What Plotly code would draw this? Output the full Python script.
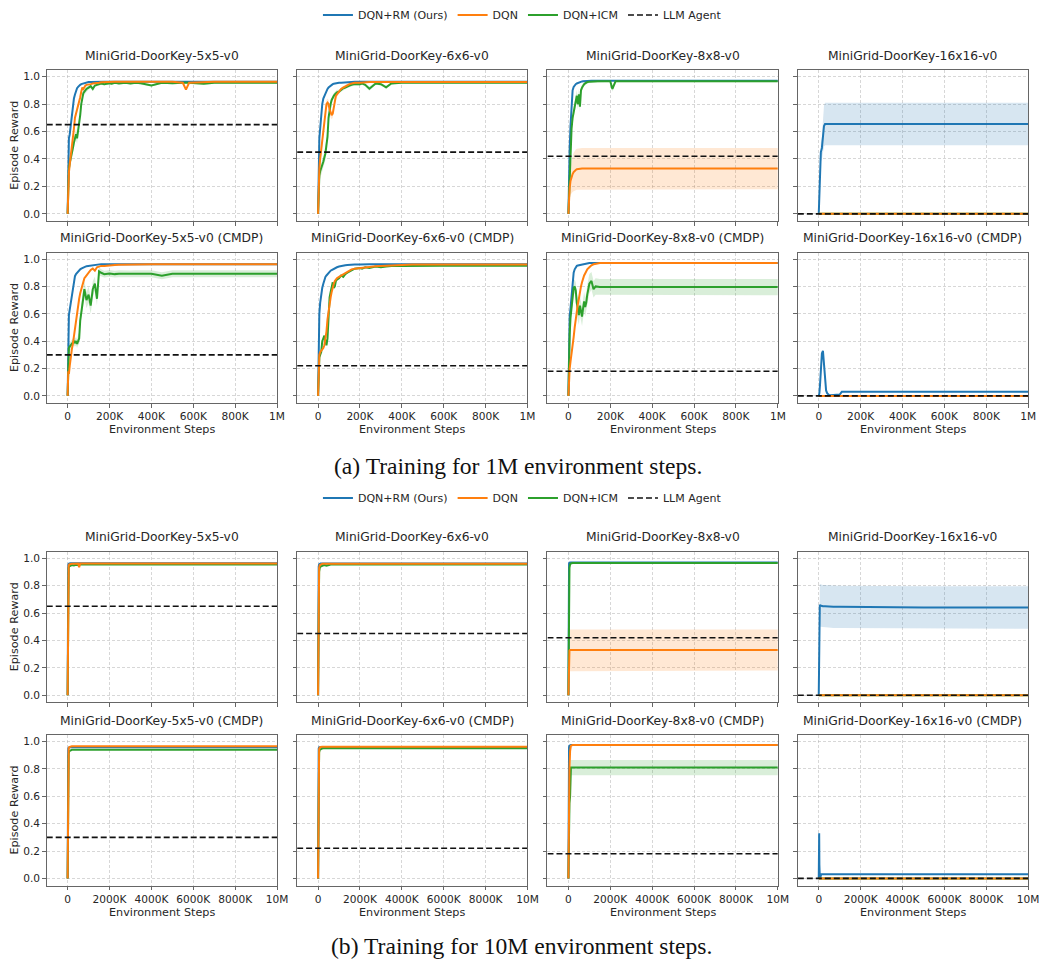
import plotly.graph_objects as go

# ---------------- data ----------------
# environment steps (thousands) for the 1M runs
STEPS_1M_K = [0, 3, 6, 10, 15, 20, 25, 30, 35, 40,
              45, 50, 55, 60, 65, 70, 75, 80, 85, 90,
              100, 110, 120, 130, 140, 150, 160, 175, 200, 210,
              225, 245, 275, 300, 325, 350, 400, 450, 500, 550,
              565, 580, 650, 700, 800, 900, 1000]
# environment steps (thousands) for the 10M runs
STEPS_10M_K = [0, 10, 20, 30, 50, 80, 120, 200, 300, 400,
               500, 550, 600, 700, 1000, 1500, 2000, 3000, 4000, 5000,
               6000, 7000, 8000, 9000, 10000]

TITLES = ["MiniGrid-DoorKey-5x5-v0", "MiniGrid-DoorKey-6x6-v0",
          "MiniGrid-DoorKey-8x8-v0", "MiniGrid-DoorKey-16x16-v0",
          "MiniGrid-DoorKey-5x5-v0 (CMDP)", "MiniGrid-DoorKey-6x6-v0 (CMDP)",
          "MiniGrid-DoorKey-8x8-v0 (CMDP)", "MiniGrid-DoorKey-16x16-v0 (CMDP)"]
LLM_AGENT = [0.65, 0.45, 0.42, 0.00, 0.30, 0.22, 0.18, 0.00]

TICKS_1M = [0, 200000, 400000, 600000, 800000, 1000000]
TICKTEXT_1M = ["0", "200K", "400K", "600K", "800K", "1M"]
TICKS_10M = [0, 2000000, 4000000, 6000000, 8000000, 10000000]
TICKTEXT_10M = ["0", "2000K", "4000K", "6000K", "8000K", "10M"]
XRANGE_1M = [-100000, 1000000]
XRANGE_10M = [-1000000, 10000000]
YTICKS = [0.0, 0.2, 0.4, 0.6, 0.8, 1.0]
YTICKTEXT = ["0.0", "0.2", "0.4", "0.6", "0.8", "1.0"]

ZERO_1M = [0.0, 0.0, 0.0, 0.0, 0.0, 0.0, 0.0, 0.0, 0.0, 0.0,
           0.0, 0.0, 0.0, 0.0, 0.0, 0.0, 0.0, 0.0, 0.0, 0.0,
           0.0, 0.0, 0.0, 0.0, 0.0, 0.0, 0.0, 0.0, 0.0, 0.0,
           0.0, 0.0, 0.0, 0.0, 0.0, 0.0, 0.0, 0.0, 0.0, 0.0,
           0.0, 0.0, 0.0, 0.0, 0.0, 0.0, 0.0]
ZERO_10M = [0.0, 0.0, 0.0, 0.0, 0.0, 0.0, 0.0, 0.0, 0.0, 0.0,
            0.0, 0.0, 0.0, 0.0, 0.0, 0.0, 0.0, 0.0, 0.0, 0.0,
            0.0, 0.0, 0.0, 0.0, 0.0]

# ---- 1M: 5x5 ----
A1_RM = [0.00, 0.50, 0.55, 0.58, 0.64, 0.72, 0.80, 0.84, 0.87, 0.90,
         0.915, 0.925, 0.935, 0.94, 0.945, 0.948, 0.95, 0.953, 0.955, 0.957,
         0.96, 0.961, 0.962, 0.962, 0.963, 0.963, 0.963, 0.963, 0.963, 0.963,
         0.963, 0.963, 0.963, 0.963, 0.963, 0.963, 0.963, 0.963, 0.963, 0.963,
         0.963, 0.963, 0.963, 0.963, 0.963, 0.963, 0.963]
A1_DQN = [0.00, 0.20, 0.30, 0.36, 0.42, 0.47, 0.52, 0.62, 0.70, 0.73,
          0.75, 0.78, 0.80, 0.85, 0.89, 0.92, 0.91, 0.93, 0.935, 0.94,
          0.94, 0.945, 0.95, 0.95, 0.955, 0.955, 0.958, 0.96, 0.96, 0.961,
          0.962, 0.962, 0.962, 0.962, 0.962, 0.962, 0.962, 0.962, 0.962, 0.955,
          0.905, 0.955, 0.962, 0.962, 0.962, 0.962, 0.962]
A1_ICM = [0.00, 0.25, 0.33, 0.37, 0.40, 0.44, 0.48, 0.52, 0.56, 0.58,
          0.55, 0.60, 0.64, 0.72, 0.80, 0.86, 0.88, 0.89, 0.90, 0.91,
          0.92, 0.93, 0.91, 0.935, 0.94, 0.945, 0.95, 0.945, 0.952, 0.948,
          0.955, 0.95, 0.955, 0.95, 0.955, 0.952, 0.935, 0.955, 0.952, 0.955,
          0.955, 0.955, 0.948, 0.955, 0.955, 0.955, 0.955]
A1_ICM_SD = [0.00, 0.03, 0.04, 0.04, 0.04, 0.04, 0.04, 0.04, 0.04, 0.04,
             0.04, 0.04, 0.03, 0.03, 0.03, 0.02, 0.02, 0.02, 0.02, 0.02,
             0.015, 0.015, 0.015, 0.01, 0.01, 0.01, 0.01, 0.01, 0.01, 0.01,
             0.008, 0.008, 0.008, 0.008, 0.008, 0.008, 0.008, 0.008, 0.008, 0.008,
             0.008, 0.008, 0.008, 0.008, 0.008, 0.008, 0.008]

# ---- 1M: 6x6 ----
A2_RM = [0.00, 0.45, 0.55, 0.62, 0.72, 0.80, 0.84, 0.86, 0.88, 0.90,
         0.91, 0.92, 0.928, 0.935, 0.94, 0.945, 0.948, 0.95, 0.952, 0.953,
         0.955, 0.956, 0.958, 0.959, 0.96, 0.96, 0.961, 0.962, 0.962, 0.962,
         0.962, 0.962, 0.962, 0.962, 0.962, 0.962, 0.962, 0.962, 0.962, 0.962,
         0.962, 0.962, 0.962, 0.962, 0.962, 0.962, 0.962]
A2_DQN = [0.00, 0.25, 0.33, 0.40, 0.47, 0.52, 0.60, 0.68, 0.75, 0.80,
          0.81, 0.80, 0.76, 0.73, 0.72, 0.73, 0.78, 0.84, 0.86, 0.87,
          0.89, 0.91, 0.92, 0.93, 0.94, 0.945, 0.95, 0.955, 0.955, 0.957,
          0.958, 0.96, 0.96, 0.96, 0.96, 0.96, 0.96, 0.96, 0.96, 0.96,
          0.96, 0.96, 0.96, 0.96, 0.96, 0.96, 0.96]
A2_DQN_SD = [0.00, 0.02, 0.03, 0.03, 0.03, 0.03, 0.03, 0.03, 0.03, 0.03,
             0.03, 0.03, 0.03, 0.03, 0.03, 0.03, 0.02, 0.02, 0.02, 0.02,
             0.01, 0.01, 0.01, 0.01, 0.01, 0.008, 0.008, 0.008, 0.008, 0.008,
             0.005, 0.005, 0.005, 0.005, 0.005, 0.005, 0.005, 0.005, 0.005, 0.005,
             0.005, 0.005, 0.005, 0.005, 0.005, 0.005, 0.005]
A2_ICM = [0.00, 0.20, 0.28, 0.31, 0.33, 0.35, 0.38, 0.41, 0.44, 0.50,
          0.56, 0.70, 0.76, 0.80, 0.83, 0.85, 0.86, 0.87, 0.88, 0.885,
          0.89, 0.905, 0.915, 0.92, 0.93, 0.935, 0.94, 0.945, 0.945, 0.95,
          0.94, 0.912, 0.95, 0.945, 0.922, 0.95, 0.955, 0.955, 0.955, 0.955,
          0.955, 0.955, 0.955, 0.955, 0.955, 0.955, 0.955]
A2_ICM_SD = [0.00, 0.03, 0.04, 0.04, 0.04, 0.04, 0.04, 0.04, 0.05, 0.05,
             0.05, 0.04, 0.03, 0.03, 0.02, 0.02, 0.02, 0.02, 0.02, 0.02,
             0.015, 0.015, 0.015, 0.012, 0.012, 0.012, 0.01, 0.01, 0.01, 0.01,
             0.01, 0.015, 0.01, 0.01, 0.012, 0.008, 0.006, 0.006, 0.006, 0.006,
             0.006, 0.006, 0.006, 0.006, 0.006, 0.006, 0.006]

# ---- 1M: 8x8 ----
A3_RM = [0.00, 0.32, 0.48, 0.64, 0.80, 0.90, 0.925, 0.94, 0.945, 0.95,
         0.954, 0.958, 0.96, 0.963, 0.965, 0.966, 0.967, 0.968, 0.969, 0.97,
         0.97, 0.97, 0.97, 0.97, 0.97, 0.97, 0.97, 0.97, 0.97, 0.97,
         0.97, 0.97, 0.97, 0.97, 0.97, 0.97, 0.97, 0.97, 0.97, 0.97,
         0.97, 0.97, 0.97, 0.97, 0.97, 0.97, 0.97]
A3_DQN = [0.00, 0.12, 0.19, 0.24, 0.27, 0.29, 0.305, 0.315, 0.32, 0.325,
          0.327, 0.328, 0.329, 0.33, 0.33, 0.33, 0.33, 0.33, 0.33, 0.33,
          0.33, 0.33, 0.33, 0.33, 0.33, 0.33, 0.33, 0.33, 0.33, 0.33,
          0.33, 0.33, 0.33, 0.33, 0.33, 0.33, 0.33, 0.33, 0.33, 0.33,
          0.33, 0.33, 0.33, 0.33, 0.33, 0.33, 0.33]
A3_DQN_SD = [0.00, 0.05, 0.08, 0.10, 0.12, 0.13, 0.14, 0.145, 0.148, 0.15,
             0.15, 0.15, 0.15, 0.15, 0.15, 0.15, 0.15, 0.15, 0.15, 0.15,
             0.15, 0.15, 0.15, 0.15, 0.15, 0.15, 0.15, 0.15, 0.15, 0.15,
             0.15, 0.15, 0.15, 0.15, 0.15, 0.15, 0.15, 0.15, 0.15, 0.15,
             0.15, 0.15, 0.15, 0.15, 0.15, 0.15, 0.15]
A3_ICM = [0.00, 0.15, 0.32, 0.52, 0.62, 0.70, 0.74, 0.78, 0.82, 0.86,
          0.80, 0.87, 0.78, 0.90, 0.92, 0.935, 0.945, 0.95, 0.955, 0.96,
          0.962, 0.964, 0.965, 0.965, 0.966, 0.966, 0.966, 0.966, 0.966, 0.91,
          0.966, 0.966, 0.963, 0.966, 0.966, 0.966, 0.966, 0.966, 0.966, 0.966,
          0.966, 0.966, 0.966, 0.966, 0.966, 0.966, 0.966]
A3_ICM_SD = [0.00, 0.05, 0.06, 0.05, 0.05, 0.04, 0.04, 0.04, 0.04, 0.04,
             0.04, 0.04, 0.04, 0.03, 0.02, 0.02, 0.015, 0.01, 0.01, 0.01,
             0.008, 0.008, 0.008, 0.008, 0.008, 0.008, 0.008, 0.008, 0.008, 0.02,
             0.008, 0.008, 0.008, 0.008, 0.008, 0.008, 0.008, 0.008, 0.008, 0.008,
             0.008, 0.008, 0.008, 0.008, 0.008, 0.008, 0.008]

# ---- 1M: 16x16 ----
A4_RM = [0.00, 0.20, 0.42, 0.45, 0.48, 0.56, 0.64, 0.655, 0.655, 0.652,
         0.655, 0.656, 0.655, 0.655, 0.655, 0.655, 0.655, 0.655, 0.655, 0.655,
         0.655, 0.655, 0.655, 0.655, 0.655, 0.655, 0.655, 0.655, 0.655, 0.655,
         0.655, 0.655, 0.655, 0.655, 0.655, 0.655, 0.655, 0.655, 0.655, 0.655,
         0.655, 0.655, 0.655, 0.655, 0.655, 0.655, 0.655]
A4_RM_SD = [0.00, 0.03, 0.05, 0.07, 0.08, 0.12, 0.15, 0.155, 0.155, 0.155,
            0.155, 0.155, 0.155, 0.155, 0.155, 0.155, 0.155, 0.155, 0.155, 0.155,
            0.155, 0.155, 0.155, 0.155, 0.155, 0.155, 0.155, 0.155, 0.155, 0.155,
            0.155, 0.155, 0.155, 0.155, 0.155, 0.155, 0.155, 0.155, 0.155, 0.155,
            0.155, 0.155, 0.155, 0.155, 0.155, 0.155, 0.155]

# ---- 1M: 5x5 CMDP ----
A5_RM = [0.00, 0.54, 0.59, 0.63, 0.68, 0.74, 0.80, 0.85, 0.875, 0.89,
         0.90, 0.91, 0.92, 0.925, 0.93, 0.935, 0.94, 0.942, 0.945, 0.947,
         0.95, 0.953, 0.956, 0.958, 0.96, 0.962, 0.963, 0.963, 0.963, 0.963,
         0.963, 0.963, 0.963, 0.963, 0.963, 0.963, 0.963, 0.963, 0.963, 0.963,
         0.963, 0.963, 0.963, 0.963, 0.963, 0.963, 0.963]
A5_DQN = [0.00, 0.18, 0.16, 0.22, 0.30, 0.34, 0.38, 0.44, 0.50, 0.56,
          0.62, 0.66, 0.71, 0.75, 0.78, 0.82, 0.84, 0.86, 0.87, 0.88,
          0.90, 0.92, 0.93, 0.915, 0.94, 0.945, 0.95, 0.95, 0.955, 0.956,
          0.957, 0.958, 0.96, 0.961, 0.962, 0.963, 0.963, 0.963, 0.963, 0.963,
          0.963, 0.963, 0.963, 0.963, 0.963, 0.963, 0.963]
A5_ICM = [0.00, 0.32, 0.35, 0.36, 0.37, 0.38, 0.39, 0.40, 0.39, 0.40,
          0.38, 0.41, 0.42, 0.55, 0.62, 0.68, 0.72, 0.78, 0.74, 0.70,
          0.74, 0.66, 0.78, 0.82, 0.71, 0.91, 0.90, 0.89, 0.895, 0.892,
          0.89, 0.893, 0.89, 0.892, 0.893, 0.892, 0.893, 0.878, 0.893, 0.893,
          0.893, 0.893, 0.893, 0.893, 0.893, 0.893, 0.893]
A5_ICM_SD = [0.00, 0.03, 0.03, 0.03, 0.03, 0.03, 0.03, 0.03, 0.03, 0.03,
             0.03, 0.04, 0.04, 0.05, 0.05, 0.06, 0.06, 0.06, 0.06, 0.06,
             0.06, 0.06, 0.06, 0.05, 0.05, 0.03, 0.025, 0.025, 0.025, 0.025,
             0.025, 0.025, 0.025, 0.025, 0.025, 0.025, 0.025, 0.025, 0.025, 0.025,
             0.025, 0.025, 0.025, 0.025, 0.025, 0.025, 0.025]

# ---- 1M: 6x6 CMDP ----
A6_RM = [0.00, 0.45, 0.60, 0.68, 0.75, 0.79, 0.82, 0.85, 0.87, 0.88,
         0.89, 0.90, 0.908, 0.915, 0.92, 0.925, 0.93, 0.935, 0.938, 0.94,
         0.945, 0.95, 0.952, 0.955, 0.956, 0.958, 0.959, 0.96, 0.961, 0.962,
         0.962, 0.962, 0.962, 0.962, 0.962, 0.962, 0.962, 0.962, 0.962, 0.962,
         0.962, 0.962, 0.962, 0.962, 0.962, 0.962, 0.962]
A6_DQN = [0.00, 0.27, 0.30, 0.32, 0.33, 0.34, 0.35, 0.37, 0.41, 0.47,
          0.56, 0.63, 0.68, 0.72, 0.76, 0.80, 0.82, 0.84, 0.85, 0.86,
          0.87, 0.88, 0.89, 0.90, 0.91, 0.92, 0.925, 0.93, 0.935, 0.937,
          0.94, 0.945, 0.948, 0.95, 0.952, 0.955, 0.958, 0.96, 0.96, 0.96,
          0.96, 0.96, 0.96, 0.96, 0.96, 0.96, 0.96]
A6_ICM = [0.00, 0.25, 0.28, 0.30, 0.32, 0.40, 0.43, 0.44, 0.40, 0.37,
          0.42, 0.62, 0.72, 0.76, 0.80, 0.83, 0.79, 0.80, 0.84, 0.85,
          0.86, 0.88, 0.87, 0.89, 0.90, 0.91, 0.92, 0.93, 0.935, 0.93,
          0.94, 0.935, 0.945, 0.94, 0.945, 0.95, 0.95, 0.952, 0.952, 0.952,
          0.952, 0.952, 0.952, 0.952, 0.952, 0.952, 0.952]

# ---- 1M: 8x8 CMDP ----
A7_RM = [0.00, 0.52, 0.58, 0.64, 0.74, 0.84, 0.90, 0.925, 0.94, 0.95,
         0.953, 0.955, 0.958, 0.96, 0.962, 0.965, 0.966, 0.968, 0.969, 0.97,
         0.972, 0.972, 0.972, 0.972, 0.972, 0.972, 0.972, 0.972, 0.972, 0.972,
         0.972, 0.972, 0.972, 0.972, 0.972, 0.972, 0.972, 0.972, 0.972, 0.972,
         0.972, 0.972, 0.972, 0.972, 0.972, 0.972, 0.972]
A7_DQN = [0.00, 0.15, 0.20, 0.25, 0.30, 0.35, 0.43, 0.50, 0.57, 0.63,
          0.67, 0.71, 0.77, 0.80, 0.83, 0.86, 0.88, 0.895, 0.91, 0.925,
          0.94, 0.955, 0.962, 0.967, 0.97, 0.972, 0.972, 0.972, 0.972, 0.972,
          0.972, 0.972, 0.972, 0.972, 0.972, 0.972, 0.972, 0.972, 0.972, 0.972,
          0.972, 0.972, 0.972, 0.972, 0.972, 0.972, 0.972]
A7_ICM = [0.00, 0.32, 0.45, 0.57, 0.66, 0.74, 0.79, 0.80, 0.77, 0.68,
          0.62, 0.59, 0.66, 0.62, 0.58, 0.64, 0.69, 0.65, 0.68, 0.74,
          0.82, 0.84, 0.78, 0.80, 0.795, 0.795, 0.795, 0.795, 0.795, 0.795,
          0.795, 0.795, 0.795, 0.795, 0.795, 0.795, 0.795, 0.795, 0.795, 0.795,
          0.795, 0.795, 0.795, 0.795, 0.795, 0.795, 0.795]
A7_ICM_SD = [0.00, 0.03, 0.04, 0.05, 0.05, 0.05, 0.05, 0.05, 0.06, 0.07,
             0.07, 0.07, 0.07, 0.07, 0.07, 0.07, 0.07, 0.07, 0.07, 0.07,
             0.07, 0.065, 0.06, 0.06, 0.06, 0.06, 0.06, 0.06, 0.06, 0.06,
             0.06, 0.06, 0.06, 0.06, 0.06, 0.06, 0.06, 0.06, 0.06, 0.06,
             0.06, 0.06, 0.06, 0.06, 0.06, 0.06, 0.06]

# ---- 1M: 16x16 CMDP ----
A8_RM = [0.00, 0.02, 0.08, 0.18, 0.31, 0.33, 0.22, 0.10, 0.04, 0.02,
         0.01, 0.005, 0.005, 0.005, 0.005, 0.005, 0.005, 0.005, 0.005, 0.005,
         0.01, 0.03, 0.03, 0.03, 0.03, 0.03, 0.03, 0.03, 0.03, 0.03,
         0.03, 0.03, 0.03, 0.03, 0.03, 0.03, 0.03, 0.03, 0.03, 0.03,
         0.03, 0.03, 0.03, 0.03, 0.03, 0.03, 0.03]

# ---- 10M runs ----
B1_RM = [0.00, 0.75, 0.92, 0.95, 0.96, 0.962, 0.963, 0.963, 0.963, 0.963,
         0.963, 0.963, 0.963, 0.963, 0.963, 0.963, 0.963, 0.963, 0.963, 0.963,
         0.963, 0.963, 0.963, 0.963, 0.963]
B1_DQN = [0.00, 0.55, 0.85, 0.92, 0.945, 0.955, 0.958, 0.96, 0.96, 0.962,
          0.962, 0.935, 0.962, 0.962, 0.962, 0.962, 0.962, 0.962, 0.962, 0.962,
          0.962, 0.962, 0.962, 0.962, 0.962]
B1_ICM = [0.00, 0.45, 0.80, 0.90, 0.93, 0.94, 0.945, 0.95, 0.948, 0.952,
          0.95, 0.953, 0.955, 0.955, 0.955, 0.955, 0.955, 0.955, 0.955, 0.955,
          0.955, 0.955, 0.955, 0.955, 0.955]
B2_RM = [0.00, 0.70, 0.90, 0.94, 0.955, 0.96, 0.962, 0.962, 0.962, 0.962,
         0.962, 0.962, 0.962, 0.962, 0.962, 0.962, 0.962, 0.962, 0.962, 0.962,
         0.962, 0.962, 0.962, 0.962, 0.962]
B2_DQN = [0.00, 0.50, 0.80, 0.88, 0.93, 0.95, 0.955, 0.96, 0.96, 0.96,
          0.96, 0.96, 0.96, 0.96, 0.96, 0.96, 0.96, 0.96, 0.96, 0.96,
          0.96, 0.96, 0.96, 0.96, 0.96]
B2_ICM = [0.00, 0.35, 0.70, 0.85, 0.90, 0.93, 0.94, 0.945, 0.95, 0.945,
          0.95, 0.955, 0.955, 0.955, 0.955, 0.955, 0.955, 0.955, 0.955, 0.955,
          0.955, 0.955, 0.955, 0.955, 0.955]
B3_RM = [0.00, 0.75, 0.93, 0.96, 0.968, 0.97, 0.97, 0.97, 0.97, 0.97,
         0.97, 0.97, 0.97, 0.97, 0.97, 0.97, 0.97, 0.97, 0.97, 0.97,
         0.97, 0.97, 0.97, 0.97, 0.97]
B3_DQN = [0.00, 0.22, 0.29, 0.315, 0.325, 0.33, 0.33, 0.33, 0.33, 0.33,
          0.33, 0.33, 0.33, 0.33, 0.33, 0.33, 0.33, 0.33, 0.33, 0.33,
          0.33, 0.33, 0.33, 0.33, 0.33]
B3_DQN_SD = [0.00, 0.10, 0.13, 0.145, 0.15, 0.15, 0.15, 0.15, 0.15, 0.15,
             0.15, 0.15, 0.15, 0.15, 0.15, 0.15, 0.15, 0.15, 0.15, 0.15,
             0.15, 0.15, 0.15, 0.15, 0.15]
B3_ICM = [0.00, 0.55, 0.80, 0.88, 0.93, 0.955, 0.962, 0.965, 0.966, 0.966,
          0.966, 0.966, 0.966, 0.966, 0.966, 0.966, 0.966, 0.966, 0.966, 0.966,
          0.966, 0.966, 0.966, 0.966, 0.966]
B4_RM = [0.00, 0.45, 0.62, 0.66, 0.66, 0.655, 0.652, 0.65, 0.65, 0.648,
         0.648, 0.647, 0.647, 0.646, 0.645, 0.644, 0.643, 0.642, 0.642, 0.641,
         0.641, 0.64, 0.64, 0.64, 0.64]
B4_RM_SD = [0.00, 0.05, 0.12, 0.155, 0.155, 0.155, 0.155, 0.155, 0.155, 0.155,
            0.155, 0.155, 0.155, 0.155, 0.155, 0.155, 0.155, 0.155, 0.155, 0.155,
            0.155, 0.155, 0.155, 0.155, 0.155]
B5_RM = [0.00, 0.80, 0.93, 0.95, 0.955, 0.957, 0.958, 0.958, 0.958, 0.958,
         0.958, 0.958, 0.958, 0.958, 0.958, 0.958, 0.958, 0.958, 0.958, 0.958,
         0.958, 0.958, 0.958, 0.958, 0.958]
B5_DQN = [0.00, 0.40, 0.75, 0.90, 0.95, 0.96, 0.962, 0.965, 0.965, 0.965,
          0.965, 0.965, 0.965, 0.965, 0.965, 0.965, 0.965, 0.965, 0.965, 0.965,
          0.965, 0.965, 0.965, 0.965, 0.965]
B5_ICM = [0.00, 0.45, 0.80, 0.88, 0.91, 0.93, 0.935, 0.94, 0.94, 0.94,
          0.94, 0.94, 0.94, 0.94, 0.94, 0.94, 0.94, 0.94, 0.94, 0.94,
          0.94, 0.94, 0.94, 0.94, 0.94]
B6_RM = [0.00, 0.75, 0.92, 0.95, 0.958, 0.96, 0.96, 0.96, 0.96, 0.96,
         0.96, 0.96, 0.96, 0.96, 0.96, 0.96, 0.96, 0.96, 0.96, 0.96,
         0.96, 0.96, 0.96, 0.96, 0.96]
B6_DQN = [0.00, 0.45, 0.80, 0.90, 0.945, 0.955, 0.96, 0.962, 0.962, 0.962,
          0.962, 0.962, 0.962, 0.962, 0.962, 0.962, 0.962, 0.962, 0.962, 0.962,
          0.962, 0.962, 0.962, 0.962, 0.962]
B6_ICM = [0.00, 0.40, 0.75, 0.88, 0.92, 0.94, 0.945, 0.95, 0.952, 0.952,
          0.952, 0.952, 0.952, 0.952, 0.952, 0.952, 0.952, 0.952, 0.952, 0.952,
          0.952, 0.952, 0.952, 0.952, 0.952]
B7_RM = [0.00, 0.70, 0.93, 0.96, 0.97, 0.975, 0.975, 0.975, 0.975, 0.975,
         0.975, 0.975, 0.975, 0.975, 0.975, 0.975, 0.975, 0.975, 0.975, 0.975,
         0.975, 0.975, 0.975, 0.975, 0.975]
B7_DQN = [0.00, 0.25, 0.45, 0.60, 0.80, 0.93, 0.97, 0.975, 0.975, 0.975,
          0.975, 0.975, 0.975, 0.975, 0.975, 0.975, 0.975, 0.975, 0.975, 0.975,
          0.975, 0.975, 0.975, 0.975, 0.975]
B7_ICM = [0.00, 0.30, 0.54, 0.55, 0.55, 0.60, 0.81, 0.81, 0.81, 0.81,
          0.81, 0.81, 0.81, 0.81, 0.81, 0.81, 0.81, 0.81, 0.81, 0.81,
          0.81, 0.81, 0.81, 0.81, 0.81]
B7_ICM_SD = [0.00, 0.03, 0.05, 0.05, 0.05, 0.05, 0.056, 0.056, 0.056, 0.056,
             0.056, 0.056, 0.056, 0.056, 0.056, 0.056, 0.056, 0.056, 0.056, 0.056,
             0.056, 0.056, 0.056, 0.056, 0.056]
B8_RM = [0.00, 0.30, 0.33, 0.10, 0.01, 0.01, 0.03, 0.03, 0.03, 0.03,
         0.03, 0.03, 0.03, 0.03, 0.03, 0.03, 0.03, 0.03, 0.03, 0.03,
         0.03, 0.03, 0.03, 0.03, 0.03]

# ---------------- styling / layout ----------------
W, H = 1045, 965
COL_LEFT = [47.2, 300.3, 553.3, 806.3]
COL_W = 232.8
ROWS = [(70.0, 221.0), (252.5, 403.0), (551.7, 702.3), (735.0, 885.5)]
TITLE_Y = [55.5, 238.3, 537.3, 720.8]
XTITLE_Y = {1: 429.5, 3: 912.0}
BLUE, ORANGE, GREEN = "#1f77b4", "#ff7f0e", "#2ca02c"
FILLS = {BLUE: "rgba(31,119,180,0.18)", ORANGE: "rgba(255,127,14,0.18)",
         GREEN: "rgba(44,160,44,0.18)"}
FONT = "DejaVu Sans"
SPINE = "#666666"
TXT = "#262626"


def fx(p):
    return p / W


def fy(p):
    return 1 - p / H


def series(rm, dqn, icm, rm_sd=None, dqn_sd=None, icm_sd=None):
    # drawing order: RM, ICM, DQN (legend order set by rank)
    return [("DQN+RM (Ours)", BLUE, rm, rm_sd, 1),
            ("DQN+ICM", GREEN, icm, icm_sd, 3),
            ("DQN", ORANGE, dqn, dqn_sd, 2)]


PANELS = [
    (0, 0, 0, STEPS_1M_K, series(A1_RM, A1_DQN, A1_ICM, icm_sd=A1_ICM_SD)),
    (0, 1, 1, STEPS_1M_K, series(A2_RM, A2_DQN, A2_ICM, dqn_sd=A2_DQN_SD, icm_sd=A2_ICM_SD)),
    (0, 2, 2, STEPS_1M_K, series(A3_RM, A3_DQN, A3_ICM, dqn_sd=A3_DQN_SD, icm_sd=A3_ICM_SD)),
    (0, 3, 3, STEPS_1M_K, series(A4_RM, ZERO_1M, ZERO_1M, rm_sd=A4_RM_SD)),
    (1, 0, 4, STEPS_1M_K, series(A5_RM, A5_DQN, A5_ICM, icm_sd=A5_ICM_SD)),
    (1, 1, 5, STEPS_1M_K, series(A6_RM, A6_DQN, A6_ICM)),
    (1, 2, 6, STEPS_1M_K, series(A7_RM, A7_DQN, A7_ICM, icm_sd=A7_ICM_SD)),
    (1, 3, 7, STEPS_1M_K, series(A8_RM, ZERO_1M, ZERO_1M)),
    (2, 0, 0, STEPS_10M_K, series(B1_RM, B1_DQN, B1_ICM)),
    (2, 1, 1, STEPS_10M_K, series(B2_RM, B2_DQN, B2_ICM)),
    (2, 2, 2, STEPS_10M_K, series(B3_RM, B3_DQN, B3_ICM, dqn_sd=B3_DQN_SD)),
    (2, 3, 3, STEPS_10M_K, series(B4_RM, ZERO_10M, ZERO_10M, rm_sd=B4_RM_SD)),
    (3, 0, 4, STEPS_10M_K, series(B5_RM, B5_DQN, B5_ICM)),
    (3, 1, 5, STEPS_10M_K, series(B6_RM, B6_DQN, B6_ICM)),
    (3, 2, 6, STEPS_10M_K, series(B7_RM, B7_DQN, B7_ICM, icm_sd=B7_ICM_SD)),
    (3, 3, 7, STEPS_10M_K, series(B8_RM, ZERO_10M, ZERO_10M)),
]

fig = go.Figure()
layout = {}
annotations = []

for (row, col, tidx, steps_k, ser) in PANELS:
    k = row * 4 + col + 1
    xa = "x" if k == 1 else f"x{k}"
    ya = "y" if k == 1 else f"y{k}"
    is10m = row >= 2
    steps = [s * 1000 for s in steps_k]
    xr = XRANGE_10M if is10m else XRANGE_1M
    legend_name = "legend2" if is10m else "legend"
    first = (col == 0 and row in (0, 2))

    for name, color, mean, sd, rank in ser:
        if sd is None:
            continue
        up = [m + s for m, s in zip(mean, sd)]
        lo = [m - s for m, s in zip(mean, sd)]
        fig.add_trace(go.Scatter(
            x=steps + steps[::-1], y=up + lo[::-1], xaxis=xa, yaxis=ya,
            mode="lines", fill="toself", fillcolor=FILLS[color],
            line=dict(width=0), hoverinfo="skip", showlegend=False))
    for name, color, mean, sd, rank in ser:
        fig.add_trace(go.Scatter(
            x=steps, y=mean, xaxis=xa, yaxis=ya, mode="lines", name=name,
            line=dict(color=color, width=2), legend=legend_name,
            legendrank=rank, showlegend=first))
    llm = LLM_AGENT[tidx]
    fig.add_trace(go.Scatter(
        x=xr, y=[llm, llm], xaxis=xa, yaxis=ya, mode="lines", name="LLM Agent",
        line=dict(color="#111111", width=1.6, dash="6px,3px"),
        legend=legend_name, legendrank=4, showlegend=first))

    x0 = COL_LEFT[col]
    top, bot = ROWS[row]
    axis_common = dict(
        showline=True, linecolor=SPINE, linewidth=1, mirror=True,
        ticks="outside", ticklen=3.5, tickwidth=1, tickcolor=SPINE,
        showgrid=True, gridcolor="rgba(175,175,175,0.5)", gridwidth=0.8,
        griddash="3px,2px", zeroline=False,
        tickfont=dict(family=FONT, size=10.6, color=TXT))
    layout["xaxis" if k == 1 else f"xaxis{k}"] = dict(
        axis_common, domain=[fx(x0), fx(x0 + COL_W)], anchor=ya,
        range=xr, tickmode="array",
        tickvals=TICKS_10M if is10m else TICKS_1M,
        ticktext=TICKTEXT_10M if is10m else TICKTEXT_1M,
        showticklabels=row in (1, 3))
    layout["yaxis" if k == 1 else f"yaxis{k}"] = dict(
        axis_common, domain=[fy(bot), fy(top)], anchor=xa,
        range=[-0.052, 1.048], tickmode="array", tickvals=YTICKS,
        ticktext=YTICKTEXT, showticklabels=(col == 0))

    annotations.append(dict(
        text=TITLES[tidx], x=fx(x0 + COL_W / 2), y=fy(TITLE_Y[row]),
        xref="paper", yref="paper", showarrow=False, xanchor="center",
        yanchor="middle", font=dict(family=FONT, size=12.3, color=TXT)))
    if col == 0:
        annotations.append(dict(
            text="Episode Reward", x=fx(14.5), y=fy((top + bot) / 2),
            xref="paper", yref="paper", showarrow=False, textangle=-90,
            xanchor="center", yanchor="middle",
            font=dict(family=FONT, size=11.2, color=TXT)))
    if row in (1, 3):
        annotations.append(dict(
            text="Environment Steps", x=fx(x0 + COL_W / 2),
            y=fy(XTITLE_Y[row]), xref="paper", yref="paper",
            showarrow=False, xanchor="center", yanchor="middle",
            font=dict(family=FONT, size=11.2, color=TXT)))

annotations.append(dict(
    text="(a) Training for 1M environment steps.", x=fx(523.5), y=fy(466),
    xref="paper", yref="paper", showarrow=False, xanchor="center",
    yanchor="middle", font=dict(family="Liberation Serif", size=23.6, color="#111111")))
annotations.append(dict(
    text="(b) Training for 10M environment steps.", x=fx(527.5), y=fy(946),
    xref="paper", yref="paper", showarrow=False, xanchor="center",
    yanchor="middle", font=dict(family="Liberation Serif", size=23.6, color="#111111")))

legend_common = dict(
    orientation="h", xanchor="center", yanchor="middle", x=fx(528),
    bgcolor="rgba(0,0,0,0)", font=dict(family=FONT, size=11, color=TXT),
    itemwidth=30, traceorder="normal", tracegroupgap=0)

fig.update_layout(
    width=W, height=H, autosize=False,
    margin=dict(l=0, r=0, t=0, b=0),
    paper_bgcolor="white", plot_bgcolor="white",
    showlegend=True,
    legend=dict(legend_common, y=fy(15.0)),
    legend2=dict(legend_common, y=fy(498.0)),
    annotations=annotations,
    **layout)

fig.write_html(
    "out.html",
    config={"displayModeBar": False},
    post_script="document.body.style.margin='0';document.body.style.padding='0';"
                "document.documentElement.style.overflow='hidden';")
